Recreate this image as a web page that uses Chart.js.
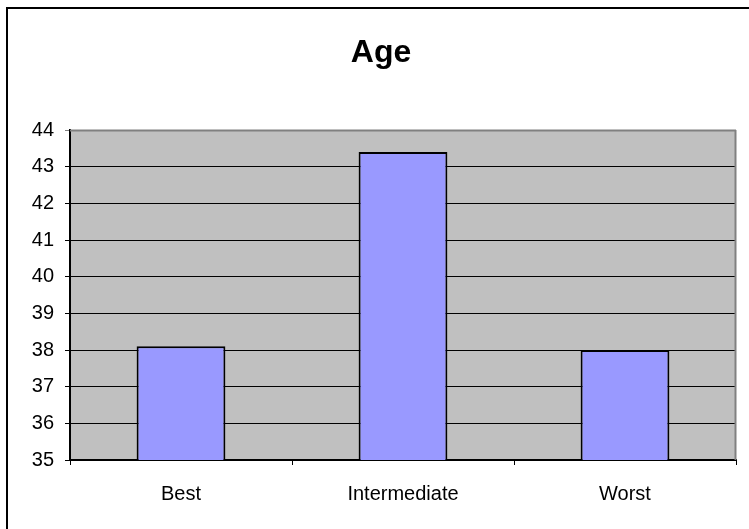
<!DOCTYPE html>
<html>
<head>
<meta charset="utf-8">
<script src="https://cdn.jsdelivr.net/npm/chart.js@4/dist/chart.umd.min.js"></script>
<style>
html,body{margin:0;padding:0;background:#fff;}
#wrap{width:749px;height:529px;position:relative;}
canvas{display:block;}
</style>
</head>
<body>
<div id="wrap"><canvas id="c" width="749" height="529"></canvas></div>
<script>
const chartTitle = "Age";
const categories = ["Best", "Intermediate", "Worst"];
const ageValues = [38.1, 43.4, 38.0];
const yMin = 35;
const yMax = 44;

const frame = {
  id: 'frame',
  beforeDraw(chart) {
    const {ctx, chartArea: a} = chart;
    ctx.save();
    ctx.fillStyle = '#fff';
    ctx.fillRect(0, 0, chart.width, chart.height);
    ctx.strokeStyle = '#000';
    ctx.lineWidth = 2;
    ctx.strokeRect(7, 8, chart.width + 10, chart.height + 10);
    ctx.fillStyle = '#C0C0C0';
    ctx.fillRect(a.left, a.top, a.right - a.left, a.bottom - a.top);
    ctx.restore();
  },
  afterDatasetsDraw(chart) {
    const {ctx, chartArea: a} = chart;
    ctx.save();
    ctx.strokeStyle = '#808080';
    ctx.lineWidth = 2;
    ctx.beginPath();
    ctx.moveTo(a.left, a.top + 0.5);
    ctx.lineTo(a.right, a.top + 0.5);
    ctx.moveTo(a.right - 0.5, a.top);
    ctx.lineTo(a.right - 0.5, a.bottom);
    ctx.stroke();
    ctx.restore();
  },
  afterDraw(chart) {
    const ctx = chart.ctx;
    ctx.save();
    ctx.fillStyle = '#000';
    ctx.font = 'bold 32px "Liberation Sans", Arial, sans-serif';
    ctx.textAlign = 'center';
    ctx.textBaseline = 'alphabetic';
    ctx.fillText(chartTitle, 381, 61.5);
    ctx.restore();
  }
};

new Chart(document.getElementById('c'), {
  type: 'bar',
  data: {
    labels: categories,
    datasets: [{
      data: ageValues,
      backgroundColor: '#9999FF',
      borderColor: '#000',
      borderWidth: 2,
      barPercentage: 0.4,
      categoryPercentage: 1.0
    }]
  },
  options: {
    responsive: false,
    animation: false,
    devicePixelRatio: 1,
    layout: { padding: { left: 0, right: 13, top: 130, bottom: 0 } },
    plugins: {
      legend: { display: false },
      tooltip: { enabled: false },
      title: { display: false }
    },
    scales: {
      x: {
        grid: {
          display: true,
          offset: true,
          drawOnChartArea: false,
          drawTicks: true,
          tickLength: 5,
          color: '#000',
          lineWidth: 1
        },
        border: { display: true, color: '#000', width: 2 },
        ticks: {
          color: '#000',
          padding: 17,
          maxRotation: 0,
          font: { family: 'Liberation Sans, Arial, sans-serif', size: 20 }
        },
        afterFit(s) { s.height = 69; }
      },
      y: {
        min: yMin,
        max: yMax,
        grid: {
          color: (c) => (c.tick && c.tick.value === yMax) ? '#808080' : '#000',
          lineWidth: 1,
          tickLength: 5,
          drawTicks: true
        },
        border: { display: true, color: '#000', width: 2 },
        ticks: {
          stepSize: 1,
          color: '#000',
          padding: 11,
          font: { family: 'Liberation Sans, Arial, sans-serif', size: 20 }
        },
        afterFit(s) { s.width = 70; }
      }
    }
  },
  plugins: [frame]
});
</script>
</body>
</html>
